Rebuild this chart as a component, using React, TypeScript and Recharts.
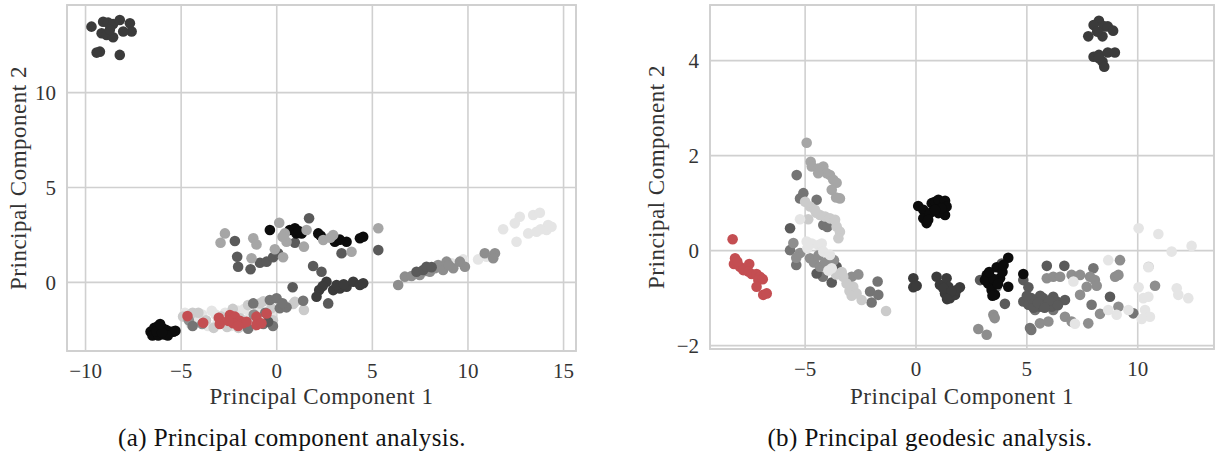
import React from 'react'
import {
  ScatterChart,
  Scatter,
  XAxis,
  YAxis,
  CartesianGrid,
  ReferenceArea
} from 'recharts'

// (a) principal component analysis, points as [pc1, pc2]
const pcaBlack = [
  [-6.6, -2.6], [-6.4, -2.4], [-6.2, -2.3], [-6.0, -2.4], [-5.8, -2.5], [-5.6, -2.6], [-5.4, -2.6],
  [-6.5, -2.8], [-6.2, -2.8], [-5.9, -2.75], [-5.7, -2.8], [-6.3, -2.6], [-6.0, -2.65], [-5.3, -2.55],
  [-6.1, -2.2], [-0.36, 2.76], [0.68, 2.76], [0.95, 2.85], [1.03, 2.58], [1.3, 2.58], [1.15, 2.7],
  [2.17, 2.58], [3.04, 2.14], [3.65, 2.14], [4.35, 2.32], [4.52, 2.4], [3.3, 2.25], [2.3, 2.45]
]
const pcaCharcoal = [
  [-9.69, 13.48], [-9.08, 13.74], [-8.82, 13.69], [-8.56, 13.62], [-8.21, 13.83], [-7.68, 13.66],
  [-7.59, 13.22], [-8.03, 13.22], [-9.16, 13.13], [-8.9, 13.04], [-8.56, 12.92], [-8.73, 13.31],
  [-9.25, 12.16], [-9.42, 12.11], [-8.21, 11.99],
  [2.6, 0.03], [2.22, -0.41], [2.08, -0.76], [2.95, -0.41], [3.3, -0.32], [3.65, -0.23], [4.0, 0.03],
  [4.35, -0.14], [4.52, -0.05], [3.13, -0.14], [2.4, -0.2], [3.5, -0.1]
]
const pcaDark = [
  [-2.19, 2.18], [-2.07, 1.35], [-2.02, 0.82], [-1.37, 0.69], [-0.88, 1.03], [-0.53, 1.09],
  [-0.19, 1.32], [0.07, 1.53], [1.69, 3.38], [0.95, 2.09], [3.21, 2.23], [3.39, 1.53], [5.31, 1.7],
  [1.9, 0.86], [2.34, 0.56], [0.83, -0.26], [-0.45, -2.08], [2.69, -1.11], [7.31, 0.56],
  [7.66, 0.65], [7.83, 0.82], [8.1, 0.8]
]
const pcaDim = [
  [-0.36, -0.93], [-0.01, -0.84], [-1.23, -1.11], [0.16, -1.37], [0.51, -1.32], [1.38, -0.97],
  [-1.5, -2.45], [-0.7, -2.2], [-4.4, -2.3], [0.3, -1.1], [-0.6, -1.6], [-0.2, -2.3]
]
const pcaGray = [
  [6.35, -0.14], [6.7, 0.3], [7.05, 0.33], [7.48, 0.39], [8.01, 0.56], [8.44, 0.91], [8.27, 0.74],
  [8.7, 0.65], [9.23, 0.74], [9.84, 0.82], [9.58, 1.09], [10.88, 1.53], [11.41, 1.53], [11.32, 1.27],
  [8.88, 1.09], [7.8, 0.6], [9.0, 0.9], [-4.6, -2.0], [-3.9, -2.2], [-2.2, -2.0], [-1.2, -1.7]
]
const pcaSilver = [
  [-2.71, 2.58], [-2.94, 2.09], [-1.23, 2.32], [-1.06, 2.0], [-1.32, 1.27], [-0.1, 1.74],
  [0.33, 1.32], [0.13, 3.14], [0.42, 2.58], [1.56, 2.76], [0.51, 2.14], [1.42, 1.88], [2.43, 2.23],
  [2.95, 2.49], [3.91, 1.61], [5.31, 2.85], [0.3, 2.4], [2.8, 2.35]
]
const pcaLight = [
  [0.86, -1.14], [1.42, -1.46], [0.95, -1.02], [-0.88, -1.11], [-0.28, -1.37], [-4.9, -1.8],
  [-4.1, -1.6], [-3.7, -2.0], [-2.9, -1.8], [-2.3, -1.4], [-1.5, -1.2], [-1.1, -2.0], [-3.3, -2.4],
  [-0.7, -1.0], [-1.9, -1.9], [-2.6, -2.35], [-4.4, -1.6], [-2.0, -2.4], [-0.2, -2.0]
]
const pcaPale = [
  [-4.8, -1.6], [-4.3, -1.9], [-3.9, -1.7], [-3.4, -1.5], [-3.1, -2.1], [-2.7, -1.6], [-2.4, -2.3],
  [-1.7, -1.4], [-1.4, -1.8], [-0.9, -1.5], [-4.5, -2.2], [-3.6, -2.3], [-2.0, -1.5], [-4.0, -2.0],
  [-3.2, -1.7], [-2.2, -1.7], [-1.2, -2.3], [-0.3, -1.7],
  [9.14, 1.0], [9.75, 1.21], [10.53, 1.21], [10.97, 1.35], [11.84, 2.8], [12.45, 3.11], [12.71, 3.46],
  [13.41, 3.55], [13.76, 3.67], [12.54, 2.14], [13.15, 2.58], [13.59, 2.67], [14.11, 2.76],
  [14.37, 2.93], [14.19, 3.02], [13.8, 2.8]
]
const pcaRed = [
  [-4.67, -1.78], [-3.85, -2.13], [-3.03, -1.87], [-2.98, -2.2], [-2.45, -1.72], [-2.19, -1.81],
  [-1.93, -2.03], [-1.76, -2.16], [-2.28, -2.16], [-1.58, -2.08], [-1.06, -1.81], [-1.06, -2.25],
  [-0.53, -1.64], [-0.8, -2.16], [-2.02, -2.3], [-2.54, -2.03]
]

// (b) principal geodesic analysis
const pgaBlack = [
  [0.1, 0.94], [0.33, 0.86], [0.48, 0.58], [0.33, 0.68], [0.63, 0.79], [0.71, 1.0], [0.86, 1.03],
  [1.01, 1.07], [1.31, 1.05], [1.38, 0.93], [1.31, 0.75], [1.01, 0.79], [1.16, 0.89], [0.86, 0.86],
  [0.55, 0.65], [4.16, -0.15], [3.64, -0.35], [3.19, -0.51], [3.26, -0.69], [3.41, -0.83],
  [3.56, -0.93], [3.79, -0.58], [4.16, -0.76], [3.11, -0.62], [4.84, -0.49], [3.5, -0.6], [3.9, -0.45],
  [3.3, -0.45], [3.7, -0.7], [3.45, -0.95], [3.95, -0.3]
]
const pgaCharcoal = [
  [8.25, 4.84], [8.01, 4.75], [8.49, 4.72], [8.65, 4.72], [8.89, 4.63], [7.77, 4.51], [8.41, 4.51],
  [8.17, 4.61], [8.01, 4.08], [8.25, 4.12], [8.65, 4.17], [8.97, 4.17], [8.41, 3.98], [8.49, 3.87],
  [8.25, 4.05],
  [-0.12, -0.58], [-0.12, -0.77], [0.03, -0.74], [0.93, -0.55], [1.08, -0.72], [1.38, -0.58],
  [1.46, -0.76], [1.31, -0.9], [1.53, -1.0], [1.76, -0.93], [1.98, -0.77], [1.83, -0.83],
  [1.23, -0.79], [1.6, -0.85], [1.4, -1.02]
]
const pgaDark = [
  [3.87, -0.27], [2.89, -0.62], [4.84, -0.62], [5.07, -0.77], [4.84, -1.07], [5.07, -1.14],
  [5.44, -1.04], [5.74, -1.0], [5.9, -1.14], [6.19, -0.97], [6.35, -1.07], [6.12, -1.18],
  [6.72, -1.04], [5.59, -1.18], [5.9, -0.32], [6.69, -0.32], [8.75, -0.97], [4.01, -1.12],
  [-4.48, -0.48], [-3.8, -0.67], [-3.58, -0.34], [-5.68, 0.47], [5.3, -1.2], [6.0, -1.05], [5.6, -0.95],
  [5.2, -1.0], [5.5, -1.1], [5.8, -1.2], [6.4, -1.15], [5.0, -0.95]
]
const pgaDim = [
  [3.64, -0.76], [3.4, -0.75], [-5.38, 1.59], [-5.23, 1.1], [-5.08, 1.21], [-4.48, 1.07],
  [-4.18, 0.54], [-4.0, 0.5], [-5.68, 0.01], [-2.07, -0.86], [-2.0, -1.09], [-1.73, -0.65],
  [-1.7, -0.93], [-4.2, -0.55], [-5.4, -0.3], [8.0, -0.37], [5.37, -1.25], [6.19, -1.25],
  [7.92, -1.14], [9.8, -1.32], [5.14, -1.63], [5.2, -1.67]
]
const pgaGray = [
  [2.81, -1.65], [3.19, -1.77], [3.49, -1.35], [3.55, -1.42], [5.9, -0.58], [6.19, -0.55],
  [6.5, -0.55], [7.02, -0.51], [7.4, -0.51], [7.85, -0.55], [8.07, -0.62], [7.7, -0.76], [8.15, -0.74],
  [7.4, -0.93], [8.98, -0.55], [9.13, -0.51], [9.2, -0.2], [10.78, -0.74], [8.3, -1.33], [6.72, -1.39],
  [7.02, -1.49], [7.77, -1.53], [5.59, -1.53], [5.97, -1.49], [9.13, -1.18], [-2.9, -0.55],
  [-2.6, -0.5], [-5.53, 0.16], [-5.23, -0.05], [-4.78, -0.16], [-4.6, -0.25], [-4.33, -0.34],
  [-5.4, -0.15], [-4.4, -0.1], [-4.1, -0.25], [-3.7, -0.2]
]
const pgaSilver = [
  [-4.93, 2.27], [-4.75, 1.87], [-4.7, 1.77], [-4.41, 1.73], [-4.18, 1.77], [-4.03, 1.63],
  [-3.88, 1.59], [-3.73, 1.49], [-3.58, 1.43], [-3.8, 1.28], [-3.43, 1.1], [-4.41, 1.63], [-3.6, 1.12]
]
const pgaLight = [
  [-5.0, 1.03], [-4.78, 0.93], [-4.56, 0.86], [-4.33, 0.75], [-4.1, 0.72], [-3.88, 0.68],
  [-3.65, 0.65], [-3.58, 0.51], [-3.43, 0.4], [-3.5, 0.26], [-4.86, 0.66], [-4.5, 0.8],
  [-3.28, -0.55], [-3.13, -0.69], [-2.83, -0.76], [-2.68, -0.9], [-2.45, -1.04], [-3.0, -0.85],
  [-2.9, -0.95], [-1.35, -1.27], [-3.6, -0.5], [-3.35, -0.45], [10.49, -0.34]
]
const pgaPale = [
  [-4.93, 0.19], [-4.7, 0.15], [-4.41, 0.12], [-4.25, 0.15], [-4.18, -0.02], [-3.88, -0.09],
  [-3.8, -0.37], [-3.95, -0.42], [-5.23, 0.66], [-4.9, 0.05],
  [8.67, -0.2], [10.04, 0.47], [10.93, 0.35], [11.53, -0.02], [12.43, 0.1], [10.48, -0.35],
  [10.04, -0.77], [10.25, -1.0], [10.48, -0.97], [11.76, -0.79], [11.83, -0.93], [12.28, -1.0],
  [10.33, -1.25], [10.55, -1.39], [10.18, -1.44], [9.58, -1.25], [9.05, -1.35], [8.67, -1.25],
  [7.17, -1.54], [7.1, -0.65]
]
const pgaRed = [
  [-8.27, 0.24], [-8.16, -0.16], [-8.21, -0.28], [-7.94, -0.34], [-7.79, -0.41], [-7.52, -0.28],
  [-7.56, -0.44], [-7.41, -0.49], [-7.19, -0.49], [-7.04, -0.55], [-7.11, -0.62], [-6.91, -0.6],
  [-7.19, -0.76], [-6.89, -0.93], [-6.73, -0.9], [-8.06, -0.23]
]

const pcaXTicks = [-10, -5, 0, 5, 10, 15]
const pcaYTicks = [0, 5, 10]
const pgaXTicks = [-5, 0, 5, 10]
const pgaYTicks = [-2, 0, 2, 4]

const COLORS = {
  black: '#0c0c0c',
  charcoal: '#3b3b3b',
  dark: '#5a5a5a',
  dim: '#747474',
  gray: '#8e8e8e',
  silver: '#a6a6a6',
  light: '#cbcbcb',
  pale: '#e5e5e5',
  red: '#c44e52'
}

const FONT = '"Liberation Serif", "DejaVu Serif", serif'
const TEXT = '#333333'
const GRID = '#d0d0d0'
const DOT_R = 5.3

const toPoints = (arr: number[][]) => arr.map(([x, y]) => ({ x, y }))
const minus = (v: number) => String(v).replace('-', '\u2212')

interface Series {
  data: number[][]
  color: string
}

interface PanelProps {
  series: Series[]
  xDomain: [number, number]
  yDomain: [number, number]
  xTicks: number[]
  yTicks: number[]
  width: number
  yAxisWidth: number
  xAxisHeight: number
  rightMargin: number
  yLabelOffset: number
}

const Panel: React.FC<PanelProps> = ({
  series,
  xDomain,
  yDomain,
  xTicks,
  yTicks,
  width,
  yAxisWidth,
  xAxisHeight,
  rightMargin,
  yLabelOffset
}) => {
  const tick = { fontSize: 21, fill: TEXT, fontFamily: FONT }
  const labelStyle = { fontSize: 23, fill: TEXT, fontFamily: FONT, letterSpacing: 0.5 }
  return (
    <ScatterChart
      width={width}
      height={420}
      margin={{ top: 5, right: rightMargin, bottom: 0, left: 0 }}
    >
      <CartesianGrid stroke={GRID} strokeWidth={1.6} />
      <ReferenceArea
        x1={xDomain[0]}
        x2={xDomain[1]}
        y1={yDomain[0]}
        y2={yDomain[1]}
        fill="none"
        stroke={GRID}
        strokeWidth={1.8}
        ifOverflow="visible"
      />
      <XAxis
        type="number"
        dataKey="x"
        domain={xDomain}
        ticks={xTicks}
        interval={0}
        allowDataOverflow
        axisLine={false}
        tickLine={false}
        tickSize={6}
        tickMargin={6}
        height={xAxisHeight}
        tick={tick}
        tickFormatter={minus}
        label={{
          value: 'Principal Component 1',
          position: 'insideBottom',
          offset: 16,
          style: labelStyle
        }}
      />
      <YAxis
        type="number"
        dataKey="y"
        domain={yDomain}
        ticks={yTicks}
        interval={0}
        allowDataOverflow
        axisLine={false}
        tickLine={false}
        tickSize={6}
        tickMargin={5}
        width={yAxisWidth}
        tick={tick}
        tickFormatter={minus}
        label={{
          value: 'Principal Component 2',
          angle: -90,
          position: 'insideLeft',
          offset: yLabelOffset,
          style: { ...labelStyle, textAnchor: 'middle' }
        }}
      />
      {series.map((s, i) => (
        <Scatter
          key={i}
          data={toPoints(s.data)}
          fill={s.color}
          isAnimationActive={false}
          shape={(p: any) => <circle cx={p.cx} cy={p.cy} r={DOT_R} fill={s.color} />}
        />
      ))}
    </ScatterChart>
  )
}

const pcaSeries: Series[] = [
  { data: pcaPale, color: COLORS.pale },
  { data: pcaLight, color: COLORS.light },
  { data: pcaGray, color: COLORS.gray },
  { data: pcaDim, color: COLORS.dim },
  { data: pcaDark, color: COLORS.dark },
  { data: pcaCharcoal, color: COLORS.charcoal },
  { data: pcaBlack, color: COLORS.black },
  { data: pcaSilver, color: COLORS.silver },
  { data: pcaRed, color: COLORS.red }
]

const pgaSeries: Series[] = [
  { data: pgaDim, color: COLORS.dim },
  { data: pgaDark, color: COLORS.dark },
  { data: pgaCharcoal, color: COLORS.charcoal },
  { data: pgaBlack, color: COLORS.black },
  { data: pgaGray, color: COLORS.gray },
  { data: pgaSilver, color: COLORS.silver },
  { data: pgaLight, color: COLORS.light },
  { data: pgaPale, color: COLORS.pale },
  { data: pgaRed, color: COLORS.red }
]

const captionStyle: React.CSSProperties = {
  position: 'absolute',
  top: 423,
  width: 600,
  textAlign: 'center',
  fontFamily: FONT,
  fontSize: 25,
  letterSpacing: 0.4,
  lineHeight: '30px',
  color: '#111111'
}

export default function App() {
  return (
    <div
      style={{
        position: 'absolute',
        left: 0,
        top: 0,
        width: 1215,
        height: 459,
        background: '#ffffff',
        overflow: 'hidden'
      }}
    >
      <div style={{ position: 'absolute', left: 0, top: 0 }}>
        <Panel
          series={pcaSeries}
          xDomain={[-10.97, 15.65]}
          yDomain={[-3.62, 14.62]}
          xTicks={pcaXTicks}
          yTicks={pcaYTicks}
          width={600}
          yAxisWidth={67}
          xAxisHeight={69}
          rightMargin={24}
          yLabelOffset={18}
        />
      </div>
      <div style={{ position: 'absolute', left: 620, top: 0 }}>
        <Panel
          series={pgaSeries}
          xDomain={[-9.29, 13.44]}
          yDomain={[-2.07, 5.17]}
          xTicks={pgaXTicks}
          yTicks={pgaYTicks}
          width={595}
          yAxisWidth={90}
          xAxisHeight={71}
          rightMargin={1}
          yLabelOffset={36}
        />
      </div>
      <div style={{ ...captionStyle, left: -8 }}>(a) Principal component analysis.</div>
      <div style={{ ...captionStyle, left: 630 }}>(b) Principal geodesic analysis.</div>
    </div>
  )
}
